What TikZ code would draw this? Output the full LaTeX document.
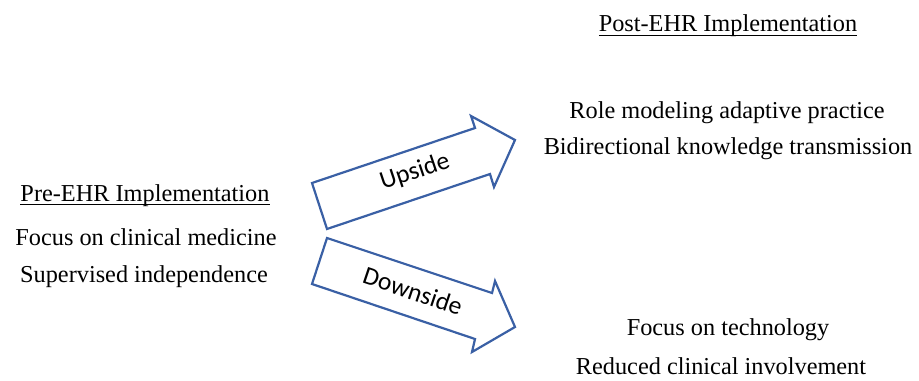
\documentclass[tikz,border=0pt]{standalone}
\usepackage{fontspec}
\setmainfont{Liberation Serif}
\newfontfamily\calfont{Carlito}
\newcommand\ulx[1]{\setbox0\hbox{#1}\rlap{\raisebox{-2.2pt}{\rule{\wd0}{0.7pt}}}\box0}
\begin{document}
\begin{tikzpicture}[x=0.5pt,y=-0.5pt,
  txt/.style={anchor=base,inner sep=0pt,font=\fontsize{12.15}{14}\selectfont},
  arrtxt/.style={inner sep=0pt,font=\calfont\fontsize{12.8}{14}\selectfont},
  bigarrow/.style={draw={rgb,255:red,58;green,96;blue,165},line width=1.1pt,line join=miter,fill=white}]
\useasboundingbox (0,0) rectangle (919,380);
% left block
\node[txt] (pre) at (145,201) {\ulx{Pre-EHR Implementation}};
\node[txt] (pre1) at (146,245) {Focus on clinical medicine};
\node[txt] (pre2) at (144,282) {Supervised independence};
% right top
\node[txt] (post) at (728,32) {\ulx{Post-EHR Implementation}};
\node[txt] (up1) at (727,118) {Role modeling adaptive practice};
\node[txt] (up2) at (728,154) {Bidirectional knowledge transmission};
% right bottom
\node[txt] (dn1) at (728,335) {Focus on technology};
\node[txt] (dn2) at (721,374) {Reduced clinical involvement};
% upside arrow
\draw[bigarrow] (312,183) -- (475,128) -- (471,116) -- (515,140) -- (494,187) -- (490,174) -- (327,229) -- cycle;
\node[arrtxt,rotate=18.6] (upl) at (415,172) {Upside};
% downside arrow
\draw[bigarrow] (327,238) -- (492,293) -- (495,281) -- (515,327) -- (472,352) -- (475,339) -- (312,284) -- cycle;
\node[arrtxt,rotate=-18.6] (dnl) at (413,291) {Downside};
\end{tikzpicture}
\end{document}
